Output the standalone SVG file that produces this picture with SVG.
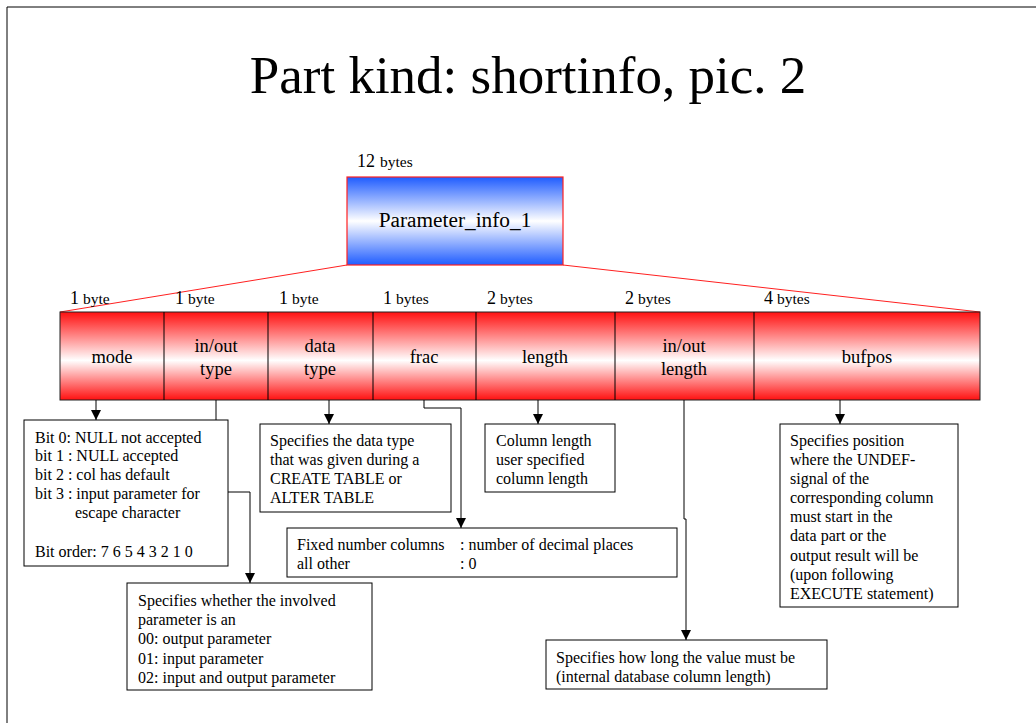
<svg xmlns="http://www.w3.org/2000/svg" width="1036" height="723" viewBox="0 0 1036 723">
<style>
text{font-family:"Liberation Serif","Times New Roman",serif;fill:#000}
.t{font-size:16px}
.f{font-size:18.5px;text-anchor:middle}
.n{font-size:18px}
.b{font-size:15.5px}
.box{fill:#fff;stroke:#000;stroke-width:1}
.c{fill:none;stroke:#000;stroke-width:1}
</style>
<defs>
<linearGradient id="blue" x1="0" y1="0" x2="0" y2="1">
<stop offset="0" stop-color="#1f5cff"/><stop offset="0.5" stop-color="#ffffff"/><stop offset="1" stop-color="#1f5cff"/>
</linearGradient>
<linearGradient id="red" x1="0" y1="0" x2="0" y2="1">
<stop offset="0" stop-color="#ff1010"/><stop offset="0.55" stop-color="#ffffff"/><stop offset="1" stop-color="#ff1010"/>
</linearGradient>
<marker id="ah" viewBox="0 0 10 10" refX="10" refY="5" markerWidth="10" markerHeight="10" markerUnits="userSpaceOnUse" orient="auto">
<path d="M0,0 L10,5 L0,10 z" fill="#000"/>
</marker>
</defs>
<rect width="1036" height="723" fill="#fff"/>
<path d="M7,723 V7 H1036" fill="none" stroke="#000" stroke-width="1"/>
<text x="528" y="93" font-size="53" text-anchor="middle">Part kind: shortinfo, pic. 2</text>

<g id="param">
<text x="357" y="167"><tspan class="n">12</tspan><tspan class="b" dx="5">bytes</tspan></text>
<rect x="347" y="177" width="216" height="88" fill="url(#blue)" stroke="#ff2020" stroke-width="1.2"/>
<text x="455" y="227" font-size="21.3" text-anchor="middle">Parameter_info_1</text>
</g>
<g id="expand">
<line x1="347" y1="265" x2="60" y2="312" stroke="#ff2020" stroke-width="1"/>
<line x1="563" y1="265" x2="980" y2="312" stroke="#ff2020" stroke-width="1"/>
</g>

<g id="fields">
<rect x="60" y="312" width="920" height="88" fill="url(#red)" stroke="#222" stroke-width="1"/>
<path d="M164,312V400M268,312V400M373,312V400M476,312V400M615,312V400M754,312V400" stroke="#000" stroke-width="1"/>
<text x="70" y="304"><tspan class="n">1</tspan><tspan class="b" dx="4">byte</tspan></text>
<text x="175" y="304"><tspan class="n">1</tspan><tspan class="b" dx="4">byte</tspan></text>
<text x="279" y="304"><tspan class="n">1</tspan><tspan class="b" dx="4">byte</tspan></text>
<text x="383" y="304"><tspan class="n">1</tspan><tspan class="b" dx="4">bytes</tspan></text>
<text x="487" y="304"><tspan class="n">2</tspan><tspan class="b" dx="4">bytes</tspan></text>
<text x="625" y="304"><tspan class="n">2</tspan><tspan class="b" dx="4">bytes</tspan></text>
<text x="764" y="304"><tspan class="n">4</tspan><tspan class="b" dx="4">bytes</tspan></text>
<text class="f" x="112" y="363">mode</text>
<text class="f" x="216" y="352">in/out</text>
<text class="f" x="216" y="375">type</text>
<text class="f" x="320" y="352">data</text>
<text class="f" x="320" y="375">type</text>
<text class="f" x="424" y="363">frac</text>
<text class="f" x="545" y="363">length</text>
<text class="f" x="684" y="352">in/out</text>
<text class="f" x="684" y="375">length</text>
<text class="f" x="867" y="363">bufpos</text>
</g>

<g id="connectors">
<path class="c" d="M96,400V420" marker-end="url(#ah)"/>
<path class="c" d="M216,400V492H250V583" marker-end="url(#ah)"/>
<path class="c" d="M329,400V424" marker-end="url(#ah)"/>
<path class="c" d="M424,400V408H461V528" marker-end="url(#ah)"/>
<path class="c" d="M538,400V424" marker-end="url(#ah)"/>
<path class="c" d="M684,400V519H686V640" marker-end="url(#ah)"/>
<path class="c" d="M840,400V424" marker-end="url(#ah)"/>
</g>

<g id="mode-box">
<rect class="box" x="24" y="420" width="204" height="146"/>
<text class="t" x="35" y="443">Bit 0: NULL not accepted</text>
<text class="t" x="35" y="461">bit 1 : NULL accepted</text>
<text class="t" x="35" y="480">bit 2 : col has default</text>
<text class="t" x="35" y="499">bit 3 : input parameter for</text>
<text class="t" x="75" y="518">escape character</text>
<text class="t" x="35" y="557">Bit order: 7 6 5 4 3 2 1 0</text>
</g>

<g id="inout-box">
<rect class="box" x="127" y="583" width="245" height="107"/>
<text class="t" x="138" y="606">Specifies whether the involved</text>
<text class="t" x="138" y="625">parameter is an</text>
<text class="t" x="138" y="644">00: output parameter</text>
<text class="t" x="138" y="664">01: input parameter</text>
<text class="t" x="138" y="683">02: input and output parameter</text>
</g>

<g id="datatype-box">
<rect class="box" x="260" y="424" width="191" height="88"/>
<text class="t" x="270" y="446">Specifies the data type</text>
<text class="t" x="270" y="465">that was given during a</text>
<text class="t" x="270" y="484">CREATE TABLE or</text>
<text class="t" x="270" y="503">ALTER TABLE</text>
</g>

<g id="frac-box">
<rect class="box" x="287" y="528" width="390" height="49"/>
<text class="t" x="297" y="550">Fixed number columns</text>
<text class="t" x="460" y="550">: number of decimal places</text>
<text class="t" x="297" y="569">all other</text>
<text class="t" x="460" y="569">: 0</text>
</g>

<g id="length-box">
<rect class="box" x="485" y="424" width="130" height="68"/>
<text class="t" x="496" y="446">Column length</text>
<text class="t" x="496" y="465">user specified</text>
<text class="t" x="496" y="484">column length</text>
</g>

<g id="inoutlen-box">
<rect class="box" x="546" y="640" width="281" height="49"/>
<text class="t" x="556" y="663">Specifies how long the value must be</text>
<text class="t" x="556" y="682">(internal database column length)</text>
</g>

<g id="bufpos-box">
<rect class="box" x="780" y="424" width="178" height="183"/>
<text class="t" x="790" y="446">Specifies position</text>
<text class="t" x="790" y="465">where the UNDEF-</text>
<text class="t" x="790" y="484">signal of the</text>
<text class="t" x="790" y="503">corresponding column</text>
<text class="t" x="790" y="522">must start in the</text>
<text class="t" x="790" y="541">data part or the</text>
<text class="t" x="790" y="561">output result will be</text>
<text class="t" x="790" y="580">(upon following</text>
<text class="t" x="790" y="599">EXECUTE statement)</text>
</g>
</svg>
